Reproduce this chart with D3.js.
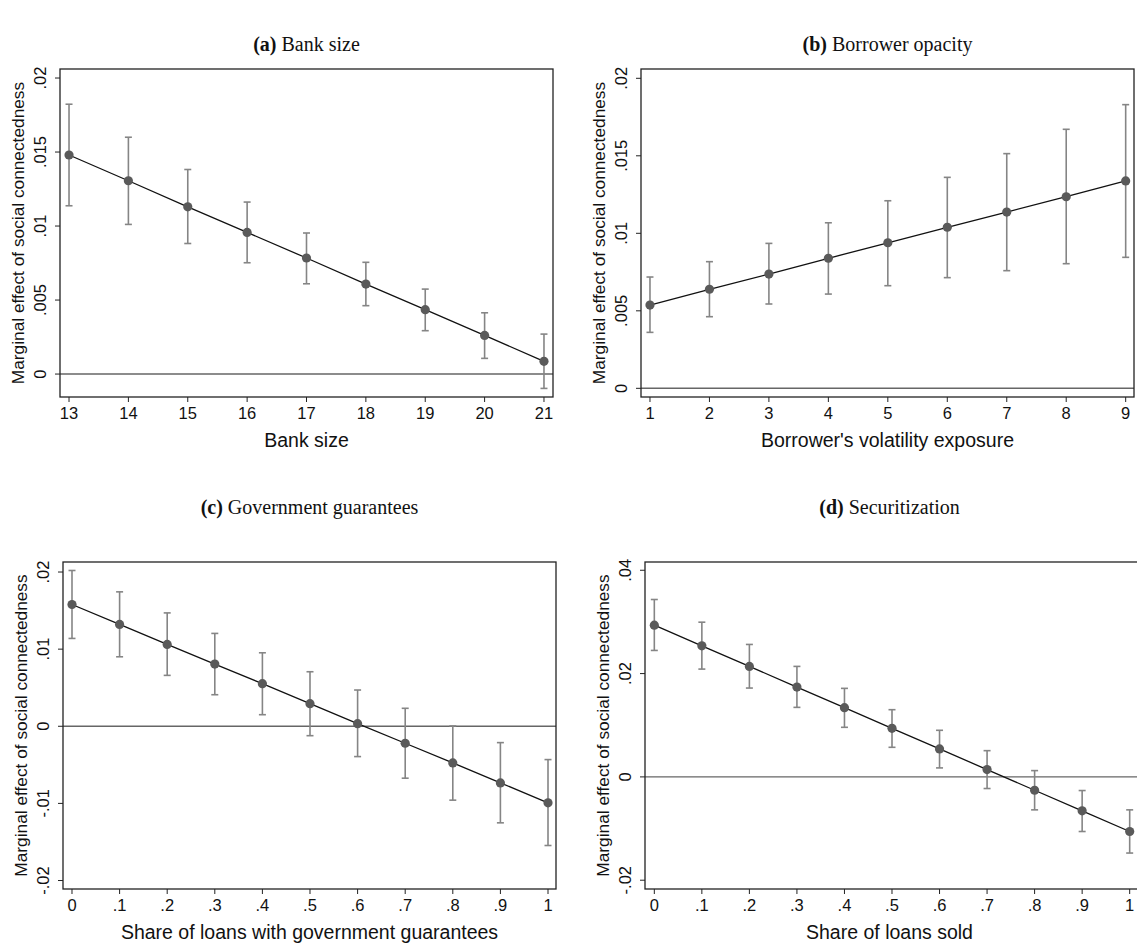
<!DOCTYPE html>
<html>
<head>
<meta charset="utf-8">
<script src="https://cdn.jsdelivr.net/npm/d3@7.9.0/dist/d3.min.js"></script>
<style>
  body { margin: 0; background: #fff; overflow: hidden; }
  svg { display: block; }
  .tick-label { font-family: "Liberation Sans", Arial, sans-serif; fill: #111; }
  .panel-title { font-family: "Liberation Serif", "DejaVu Serif", serif; fill: #111; }
</style>
</head>
<body>
<div id="chart"></div>
<script>
/* ---------------------------------------------------------
   DATA
--------------------------------------------------------- */
const bankSize = [13, 14, 15, 16, 17, 18, 19, 20, 21];
const bankEst = [0.0148, 0.01306, 0.0113, 0.00957, 0.00784, 0.00608, 0.00435, 0.00261, 0.00086];
const bankLo = [0.01137, 0.01011, 0.00882, 0.00752, 0.0061, 0.00462, 0.00293, 0.00106, -0.00097];
const bankHi = [0.01823, 0.0160, 0.01382, 0.01162, 0.00953, 0.00755, 0.00574, 0.00414, 0.0027];

const volExposure = [1, 2, 3, 4, 5, 6, 7, 8, 9];
const volEst = [0.00537, 0.00639, 0.00737, 0.00839, 0.00939, 0.01039, 0.01137, 0.01236, 0.01338];
const volLo = [0.00361, 0.00462, 0.00544, 0.00608, 0.00662, 0.00714, 0.00759, 0.00804, 0.00845];
const volHi = [0.00718, 0.00817, 0.00935, 0.01068, 0.0121, 0.01361, 0.01514, 0.01671, 0.0183];

const guarShare = [0, 0.1, 0.2, 0.3, 0.4, 0.5, 0.6, 0.7, 0.8, 0.9, 1];
const guarEst = [0.01579, 0.0132, 0.01061, 0.00806, 0.00552, 0.00293, 0.00034, -0.0022, -0.00475, -0.00734, -0.00993];
const guarLo = [0.01139, 0.00901, 0.0066, 0.00409, 0.0015, -0.00122, -0.00393, -0.00673, -0.00958, -0.01252, -0.01546];
const guarHi = [0.0202, 0.01743, 0.0147, 0.01204, 0.00953, 0.00707, 0.0047, 0.00233, 0.00004, -0.00212, -0.00432];

const soldShare = [0, 0.1, 0.2, 0.3, 0.4, 0.5, 0.6, 0.7, 0.8, 0.9, 1];
const soldEst = [0.02937, 0.02537, 0.02139, 0.01739, 0.0134, 0.00941, 0.00541, 0.00142, -0.00258, -0.00657, -0.01057];
const soldLo = [0.02448, 0.02087, 0.0172, 0.01346, 0.0096, 0.00573, 0.00174, -0.00225, -0.00638, -0.01057, -0.01474];
const soldHi = [0.03434, 0.02995, 0.02564, 0.02139, 0.01714, 0.01301, 0.00902, 0.00508, 0.00122, -0.00264, -0.00638];

const yTicksA = [0, 0.005, 0.01, 0.015, 0.02];
const yTicksB = [0, 0.005, 0.01, 0.015, 0.02];
const yTicksC = [-0.02, -0.01, 0, 0.01, 0.02];
const yTicksD = [-0.02, 0, 0.02, 0.04];
const shareTicks = [0, 0.1, 0.2, 0.3, 0.4, 0.5, 0.6, 0.7, 0.8, 0.9, 1];

const yTitle = 'Marginal effect of social connectedness';

/* ---------------------------------------------------------
   PANEL SETUP
--------------------------------------------------------- */
const panels = [
  {
    tag: '(a)', title: 'Bank size', xTitle: 'Bank size',
    x: bankSize, est: bankEst, lo: bankLo, hi: bankHi,
    xDomain: [12.848, 21.152], yDomain: [-0.00155, 0.02061],
    xTicks: bankSize, yTicks: yTicksA,
    box: { left: 60, right: 553, top: 69, bottom: 397 }, titleY: 44,
  },
  {
    tag: '(b)', title: 'Borrower opacity', xTitle: "Borrower's volatility exposure",
    x: volExposure, est: volEst, lo: volLo, hi: volHi,
    xDomain: [0.849, 9.14], yDomain: [-0.00056, 0.0206],
    xTicks: volExposure, yTicks: yTicksB,
    box: { left: 641, right: 1134, top: 69, bottom: 397 }, titleY: 44,
  },
  {
    tag: '(c)', title: 'Government guarantees', xTitle: 'Share of loans with government guarantees',
    x: guarShare, est: guarEst, lo: guarLo, hi: guarHi,
    xDomain: [-0.0189, 1.0168], yDomain: [-0.0211, 0.0213],
    xTicks: shareTicks, yTicks: yTicksC,
    box: { left: 63, right: 556, top: 562, bottom: 889 }, titleY: 507,
  },
  {
    tag: '(d)', title: 'Securitization', xTitle: 'Share of loans sold',
    x: soldShare, est: soldEst, lo: soldLo, hi: soldHi,
    xDomain: [-0.0196, 1.0175], yDomain: [-0.0217, 0.0416],
    xTicks: shareTicks, yTicks: yTicksD,
    box: { left: 645, right: 1138, top: 562, bottom: 889 }, titleY: 507,
  },
];

// Stata-style labels: ".02", "-.01", "0"
function stataFmt(v) {
  if (Math.abs(v) < 1e-12) return '0';
  return String(+v.toFixed(4)).replace(/^(-?)0\./, '$1.');
}

const svg = d3.select('#chart').append('svg')
  .attr('width', 1137)
  .attr('height', 946);

function drawPanel(p) {
  const b = p.box;
  const g = svg.append('g');

  const x = d3.scaleLinear().domain(p.xDomain).range([b.left, b.right]);
  const y = d3.scaleLinear().domain(p.yDomain).range([b.bottom, b.top]);

  const rows = p.x.map((v, i) => ({ x: v, est: p.est[i], lo: p.lo[i], hi: p.hi[i] }));

  // panel title
  const t = g.append('text')
    .attr('class', 'panel-title')
    .attr('x', (Math.min(b.right, 1134) + b.left) / 2)
    .attr('y', p.titleY)
    .attr('dy', '0.35em')
    .attr('text-anchor', 'middle')
    .style('font-size', '20px');
  t.append('tspan').style('font-weight', 'bold').text(p.tag);
  t.append('tspan').text(' ' + p.title);

  // zero reference line
  g.append('line')
    .attr('x1', b.left).attr('x2', b.right)
    .attr('y1', y(0)).attr('y2', y(0))
    .attr('stroke', '#666')
    .attr('stroke-width', 1.4);

  // y axis ticks + rotated labels
  g.selectAll('.ytick')
    .data(p.yTicks)
    .join('line')
    .attr('x1', b.left - 5).attr('x2', b.left)
    .attr('y1', (d) => y(d)).attr('y2', (d) => y(d))
    .attr('stroke', '#222');

  g.selectAll('.ylab')
    .data(p.yTicks)
    .join('text')
    .attr('class', 'tick-label')
    .attr('transform', (d) => `translate(${b.left - 20},${y(d)}) rotate(-90)`)
    .attr('dy', '0.35em')
    .attr('text-anchor', 'middle')
    .style('font-size', '16.5px')
    .text(stataFmt);

  // x axis ticks + labels
  g.selectAll('.xtick')
    .data(p.xTicks)
    .join('line')
    .attr('x1', (d) => x(d)).attr('x2', (d) => x(d))
    .attr('y1', b.bottom).attr('y2', b.bottom + 5)
    .attr('stroke', '#222');

  g.selectAll('.xlab')
    .data(p.xTicks)
    .join('text')
    .attr('class', 'tick-label')
    .attr('x', (d) => x(d))
    .attr('y', b.bottom + 16.5)
    .attr('dy', '0.35em')
    .attr('text-anchor', 'middle')
    .style('font-size', '16.5px')
    .text(stataFmt);

  // axis titles
  g.append('text')
    .attr('class', 'tick-label')
    .attr('x', (Math.min(b.right, 1134) + b.left) / 2)
    .attr('y', b.bottom + 43.5)
    .attr('dy', '0.35em')
    .attr('text-anchor', 'middle')
    .style('font-size', '19.5px')
    .text(p.xTitle);

  g.append('text')
    .attr('class', 'tick-label')
    .attr('transform', `translate(${b.left - 42},${(b.top + b.bottom) / 2}) rotate(-90)`)
    .attr('dy', '0.35em')
    .attr('text-anchor', 'middle')
    .style('font-size', '17.3px')
    .text(yTitle);

  // error bars
  const bars = g.append('g')
    .attr('stroke', '#858585')
    .attr('stroke-width', 1.6);

  bars.selectAll('.ci')
    .data(rows)
    .join('line')
    .attr('x1', (d) => x(d.x)).attr('x2', (d) => x(d.x))
    .attr('y1', (d) => y(d.lo)).attr('y2', (d) => y(d.hi));

  bars.selectAll('.cap-hi')
    .data(rows)
    .join('line')
    .attr('x1', (d) => x(d.x) - 3.5).attr('x2', (d) => x(d.x) + 3.5)
    .attr('y1', (d) => y(d.hi)).attr('y2', (d) => y(d.hi));

  bars.selectAll('.cap-lo')
    .data(rows)
    .join('line')
    .attr('x1', (d) => x(d.x) - 3.5).attr('x2', (d) => x(d.x) + 3.5)
    .attr('y1', (d) => y(d.lo)).attr('y2', (d) => y(d.lo));

  // connecting line
  g.append('path')
    .datum(rows)
    .attr('fill', 'none')
    .attr('stroke', '#111')
    .attr('stroke-width', 1.3)
    .attr('d', d3.line().x((d) => x(d.x)).y((d) => y(d.est)));

  // point estimates
  g.selectAll('.pt')
    .data(rows)
    .join('circle')
    .attr('cx', (d) => x(d.x))
    .attr('cy', (d) => y(d.est))
    .attr('r', 4.6)
    .attr('fill', '#5a5a5a');

  // plot frame
  g.append('rect')
    .attr('x', b.left).attr('y', b.top)
    .attr('width', b.right - b.left)
    .attr('height', b.bottom - b.top)
    .attr('fill', 'none')
    .attr('stroke', '#222')
    .attr('stroke-width', 1.3);
}

panels.forEach(drawPanel);
</script>
</body>
</html>
